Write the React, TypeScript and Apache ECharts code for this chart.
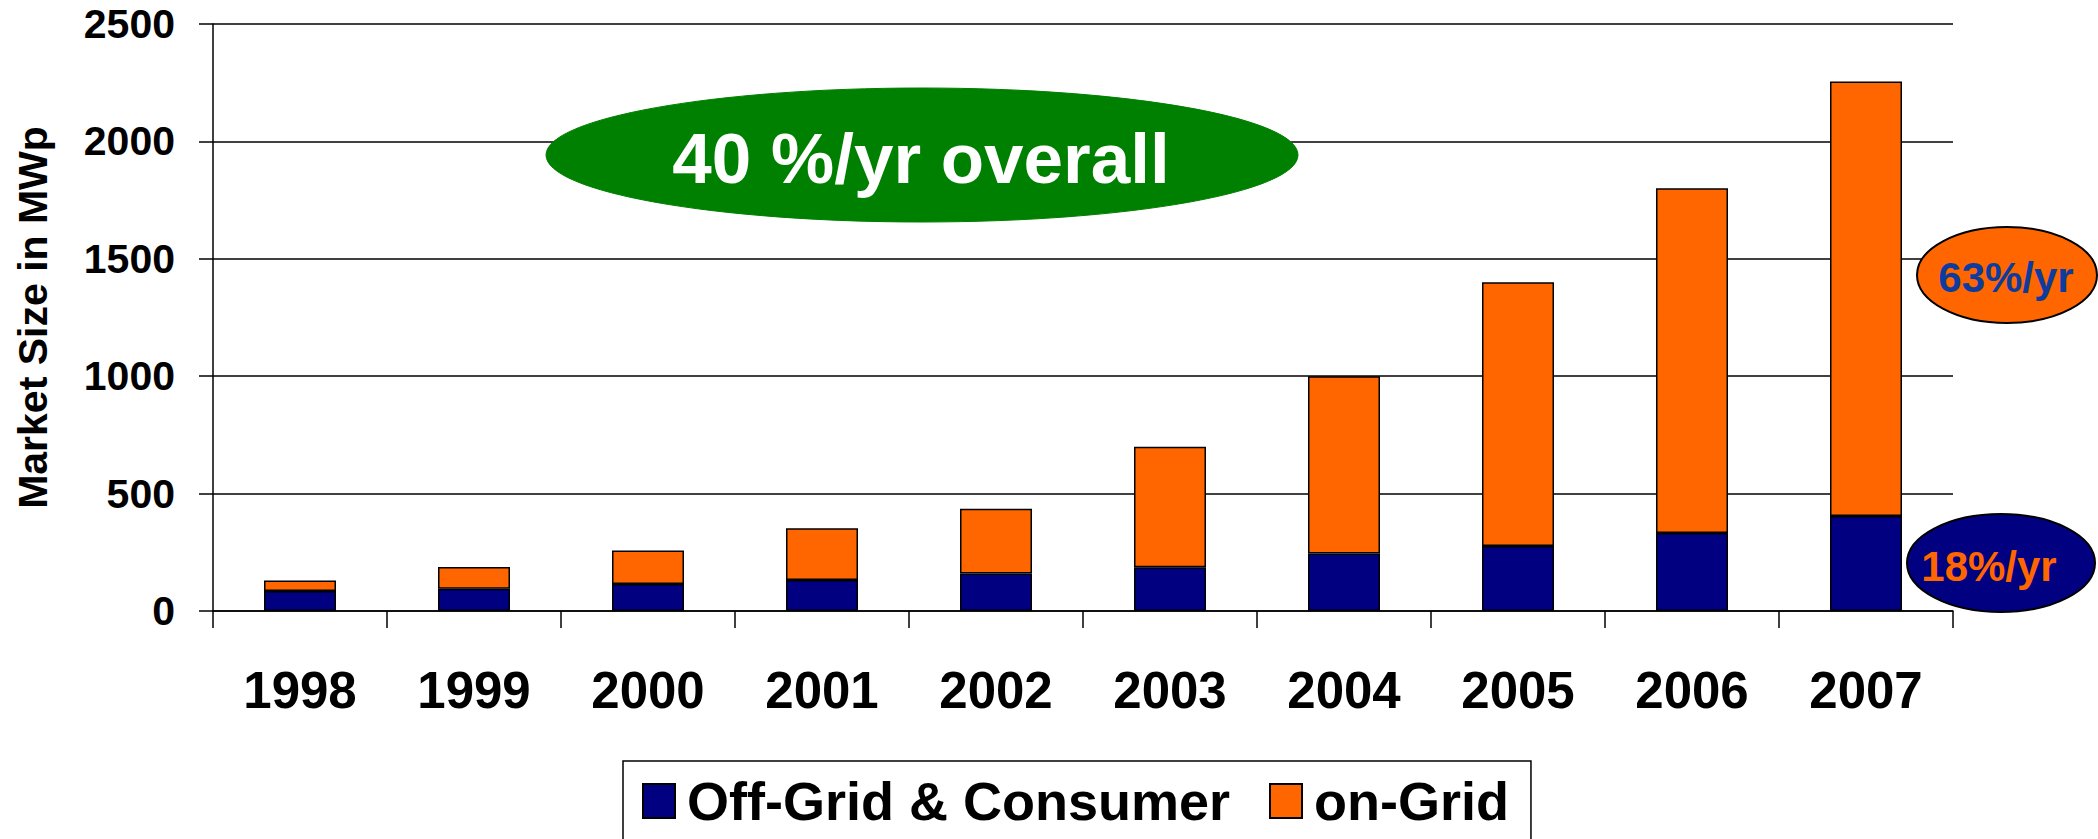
import React, { useEffect, useRef } from "react";
import * as echarts from "echarts";

const years = ["1998", "1999", "2000", "2001", "2002", "2003", "2004", "2005", "2006", "2007"];
const offGridConsumer = [85, 95, 115, 132, 160, 186, 245, 277, 332, 405];
const onGrid = [45, 92, 143, 220, 275, 514, 755, 1123, 1468, 1850];
const yTicks = { min: 0, max: 2500, interval: 500 };
const seriesNames = ["Off-Grid & Consumer", "on-Grid"];
const overallLabel = "40 %/yr overall";
const onGridRate = "63%/yr";
const offGridRate = "18%/yr";

const NAVY = "#000080";
const ORANGE = "#FF6600";
const GREEN = "#008000";
const BLUE_TEXT = "#0D3C9E";
const FONT = "'Liberation Sans', Arial, Helvetica, sans-serif";

export default function App() {
  const ref = useRef<HTMLDivElement>(null);

  useEffect(() => {
    if (!ref.current) return;
    const chart = echarts.init(ref.current, undefined, { renderer: "svg" });
    const option: any = {
      animation: false,
      backgroundColor: "#ffffff",
      textStyle: { fontFamily: FONT },
      grid: { left: 213, right: 145, top: 24, bottom: 228, containLabel: false },
      legend: {
        show: true,
        left: 623,
        top: 761,
        orient: "horizontal",
        backgroundColor: "#ffffff",
        borderColor: "#000000",
        borderWidth: 1.5,
        padding: [13, 22, 40, 19],
        itemWidth: 32,
        itemHeight: 34,
        itemGap: 39,
        icon: "rect",
        selectedMode: false,
        textStyle: {
          fontFamily: FONT,
          fontSize: 54,
          fontWeight: "bold",
          color: "#000000",
          padding: [0, 0, 0, 7],
        },
        data: seriesNames,
      },
      xAxis: {
        type: "category",
        data: years,
        boundaryGap: true,
        axisLine: { show: true, lineStyle: { color: "#000", width: 1.5 } },
        axisTick: { show: true, alignWithLabel: false, length: 17, lineStyle: { color: "#000", width: 1.5 } },
        axisLabel: {
          fontFamily: FONT,
          fontSize: 51,
          fontWeight: "bold",
          color: "#000",
          margin: 54,
        },
        splitLine: { show: false },
      },
      yAxis: {
        type: "value",
        min: yTicks.min,
        max: yTicks.max,
        interval: yTicks.interval,
        name: "Market Size in MWp",
        nameLocation: "middle",
        nameRotate: 90,
        nameGap: 160,
        nameTextStyle: { fontFamily: FONT, fontSize: 41, fontWeight: "bold", color: "#000" },
        axisLine: { show: true, lineStyle: { color: "#000", width: 1.5 } },
        axisTick: { show: true, length: 14, lineStyle: { color: "#000", width: 1.5 } },
        axisLabel: {
          fontFamily: FONT,
          fontSize: 41,
          fontWeight: "bold",
          color: "#000",
          margin: 38,
          formatter: (v: number) => String(v),
        },
        splitLine: { show: true, lineStyle: { color: "#000", width: 1.5 } },
      },
      series: [
        {
          name: seriesNames[0],
          type: "bar",
          stack: "total",
          barWidth: 72,
          data: offGridConsumer,
          itemStyle: { color: NAVY, borderColor: "#000", borderWidth: 1.5 },
        },
        {
          name: seriesNames[1],
          type: "bar",
          stack: "total",
          barWidth: 72,
          data: onGrid,
          itemStyle: { color: ORANGE, borderColor: "#000", borderWidth: 1.5 },
        },
      ],
      graphic: [
        {
          type: "ellipse",
          shape: { cx: 922, cy: 155, rx: 376, ry: 67 },
          style: { fill: GREEN, stroke: GREEN, lineWidth: 1 },
          z: 10,
        },
        {
          type: "text",
          x: 921,
          y: 158,
          style: {
            text: overallLabel,
            fill: "#ffffff",
            fontFamily: FONT,
            fontSize: 71,
            fontWeight: "bold",
            textAlign: "center",
            textVerticalAlign: "middle",
          },
          z: 11,
        },
        {
          type: "ellipse",
          shape: { cx: 2007, cy: 275, rx: 90, ry: 48 },
          style: { fill: ORANGE, stroke: "#000", lineWidth: 2 },
          z: 10,
        },
        {
          type: "text",
          x: 2006,
          y: 277,
          style: {
            text: onGridRate,
            fill: BLUE_TEXT,
            fontFamily: FONT,
            fontSize: 42,
            fontWeight: "bold",
            textAlign: "center",
            textVerticalAlign: "middle",
          },
          z: 11,
        },
        {
          type: "ellipse",
          shape: { cx: 2001, cy: 563, rx: 94, ry: 49 },
          style: { fill: NAVY, stroke: "#000", lineWidth: 2 },
          z: 10,
        },
        {
          type: "text",
          x: 1989,
          y: 566,
          style: {
            text: offGridRate,
            fill: ORANGE,
            fontFamily: FONT,
            fontSize: 42,
            fontWeight: "bold",
            textAlign: "center",
            textVerticalAlign: "middle",
          },
          z: 11,
        },
      ],
    };
    chart.setOption(option);
    return () => {
      chart.dispose();
    };
  }, []);

  return (
    <div
      ref={ref}
      style={{ position: "absolute", left: 0, top: 0, width: 2098, height: 839, background: "#fff" }}
    />
  );
}
